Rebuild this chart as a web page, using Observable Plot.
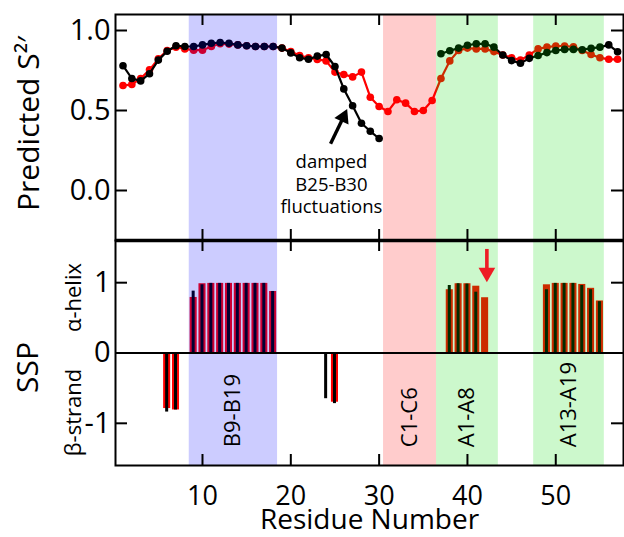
<!DOCTYPE html>
<html><head><meta charset="utf-8">
<script src="https://cdn.jsdelivr.net/npm/d3@7"></script>
<script src="https://cdn.jsdelivr.net/npm/@observablehq/plot@0.6"></script>
<style>
body{margin:0;background:#fff;}
#chart{position:relative;width:624px;height:537px;}
#chart svg{position:absolute;left:0;overflow:visible;}
</style></head><body><div id="chart"></div>
<script>
// ---- data ----
const residues = d3.range(1, 58);
const s2Black = [0.78,0.70,0.685,0.73,0.815,0.87,0.905,0.90,0.90,0.91,
  0.92,0.925,0.92,0.91,0.905,0.90,0.90,0.90,0.89,0.86,
  0.83,0.82,0.84,0.85,0.775,0.635,0.53,0.42,0.37,0.325,
  null,null,null,null,null,null,
  0.855,0.873,0.89,0.908,0.917,0.917,0.896,0.847,0.812,0.795,
  0.826,0.844,0.862,0.875,0.882,0.882,0.88,0.888,0.896,0.91,0.867];
const s2Red = [0.656,0.663,0.70,0.754,0.823,0.875,0.896,0.885,0.877,0.877,
  0.90,0.917,0.915,0.91,0.905,0.90,0.90,0.90,0.89,0.869,
  0.844,0.83,0.819,0.81,0.74,0.725,0.71,0.74,0.583,0.525,
  0.494,0.567,0.546,0.494,0.50,0.5625,
  0.70,0.81,0.875,0.89,0.885,0.885,0.868,0.847,0.83,0.815,
  0.847,0.885,0.896,0.903,0.903,0.898,0.875,0.85,0.83,0.82,0.82];

const sspResidues = [6,7,9,10,11,12,13,14,15,16,17,18,24,25,38,39,40,41,42,49,50,51,52,53,54,55];
const sspRed   = [-0.79,-0.81,0.79,0.985,0.99,0.99,0.99,0.99,0.99,0.99,0.99,0.875,0,-0.70,0.90,0.985,0.985,0.95,0.786,0.97,0.99,0.99,0.99,0.975,0.92,0.74];
const sspBlack = [-0.84,-0.81,0.88,0.97,0.99,0.99,0.99,0.99,0.99,0.99,0.99,0.875,-0.65,-0.72,0.96,0.985,0.98,0.865,0,0.90,0.99,0.99,0.99,0.96,0.90,0.73];

const regionStart  = [8.5, 30.5, 36.5, 47.5];
const regionEnd    = [18.5, 36.5, 43.5, 55.5];
const regionLabels = ["B9-B19", "C1-C6", "A1-A8", "A13-A19"];
const regionColors = ["#0000ff", "#ff0000", "#00dc00", "#00dc00"];

const xTicks = [10, 20, 30, 40, 50];
const topTicks = [0, 0.5, 1.0];
const sspTicks = [-1, 0, 1];

const annotationText = "damped\nB25-B30\nfluctuations";
const annotationPos = {x: 24.6, y: 0.044};
// arrow shaft (tail -> base of head) and head centre
const blackArrow = {x1: 24.5, y1: 0.292, x2: 25.8, y2: 0.44, hx: 25.95, hy: 0.458, angle: 25};
const redArrow = {x1: 42.2, y1: 1.48, x2: 42.2, y2: 1.16, hx: 42.2, hy: 1.145, angle: 180};

// ---- layout ----
const W = 624, ML = 115, MR = 1;
const xDomain = [0.15, 57.67];
const topDomain = [-0.3125, 1.1];
const sspDomain = [-1.6, 1.6];
const topH = 241, topMT = 14, topMB = 1;
const botH = 297, botMT = 0, botMB = 72;
const frameW = W - ML - MR;
const topFrameH = topH - topMT - topMB;
const botFrameH = botH - botMT - botMB;
const tickLenY = 12, tickLenX = 11;
const FONT = "'Open Sans', sans-serif";

const s2Rows = residues.map((r, i) => ({r, black: s2Black[i], red: s2Red[i]}));
const sspRows = sspResidues.map((r, i) => ({r, red: sspRed[i], black: sspBlack[i]}));
const regionRows = regionStart.map((s, i) => ({start: s, end: regionEnd[i], label: regionLabels[i], color: regionColors[i], mid: (s + regionEnd[i]) / 2}));

function inwardTicks(yt, fH) {
  return [
    Plot.ruleY(yt, {y: d => d, insetRight: frameW - tickLenY, strokeWidth: 2}),
    Plot.ruleY(yt, {y: d => d, insetLeft: frameW - tickLenY, strokeWidth: 2}),
    Plot.ruleX(xTicks, {x: d => d, insetBottom: fH - tickLenX, strokeWidth: 2}),
    Plot.ruleX(xTicks, {x: d => d, insetTop: fH - tickLenX, strokeWidth: 2})
  ];
}
function arrowMarks(a, color, w, r) {
  return [
    Plot.link([a], {x1: "x1", y1: "y1", x2: "x2", y2: "y2", stroke: color, strokeWidth: w}),
    Plot.dot([a], {x: "hx", y: "hy", symbol: "triangle", r, fill: color, rotate: "angle"})
  ];
}
const label = (txt, dx, dy, size) => Plot.text([txt], {frameAnchor: "left", textAnchor: "middle", lineAnchor: "middle", dx, dy, rotate: -90, fontSize: size, text: d => d});

const styleStr = `font-family: ${FONT}; font-size: 29px; background: transparent; overflow: visible; color: #000;`;

const topPlot = Plot.plot({
  width: W, height: topH, marginLeft: ML, marginRight: MR, marginTop: topMT, marginBottom: topMB,
  style: styleStr,
  x: {domain: xDomain, axis: null},
  y: {domain: topDomain},
  marks: [
    Plot.line(s2Rows, {x: "r", y: "red", stroke: "#ff0000", strokeWidth: 2.2}),
    Plot.dot(s2Rows, {x: "r", y: "red", r: 3.8, fill: "#ff0000"}),
    Plot.line(s2Rows, {x: "r", y: "black", stroke: "#000", strokeWidth: 2.2}),
    Plot.dot(s2Rows, {x: "r", y: "black", r: 3.8, fill: "#000"}),
    Plot.rect(regionRows, {x1: "start", x2: "end", y1: topDomain[0], y2: topDomain[1], fill: "color", fillOpacity: 0.2}),
    ...inwardTicks(topTicks, topFrameH),
    Plot.frame({strokeWidth: 2}),
    Plot.axisY({ticks: topTicks, tickSize: 0, tickPadding: 5, tickFormat: d3.format(".1f"), label: null}),
    Plot.text([annotationText], {x: annotationPos.x, y: annotationPos.y, text: d => d, fontSize: 18.5, lineHeight: 1.2}),
    ...arrowMarks(blackArrow, "#000", 3.4, 5.8),
    label("Predicted S²′", -86, -4, 30)
  ]
});
topPlot.style.top = "0px";

const botPlot = Plot.plot({
  width: W, height: botH, marginLeft: ML, marginRight: MR, marginTop: botMT, marginBottom: botMB,
  style: styleStr,
  x: {domain: xDomain},
  y: {domain: sspDomain},
  marks: [
    Plot.rect(sspRows.filter(d => d.red !== 0), {x1: d => d.r - 0.4, x2: d => d.r + 0.4, y1: 0, y2: "red", fill: "#ff0000"}),
    Plot.rect(sspRows.filter(d => d.black !== 0), {x1: d => d.r - 0.17, x2: d => d.r + 0.17, y1: 0, y2: "black", fill: "#000"}),
    Plot.rect(regionRows, {x1: "start", x2: "end", y1: sspDomain[0], y2: sspDomain[1], fill: "color", fillOpacity: 0.2}),
    Plot.ruleY([0], {strokeWidth: 2.2}),
    ...inwardTicks(sspTicks, botFrameH),
    Plot.frame({strokeWidth: 2}),
    Plot.ruleY([sspDomain[1]], {strokeWidth: 3.5}),
    Plot.axisY({ticks: sspTicks, tickSize: 0, tickPadding: 5, tickFormat: d => d < 0 ? "-" + Math.abs(d) : String(d), label: null}),
    Plot.axisX({ticks: xTicks, tickSize: 0, tickPadding: 20, fontSize: 27, label: null}),
    Plot.text(regionRows, {x: "mid", y: -1.34, text: "label", rotate: -90, textAnchor: "start", fontSize: 22}),
    ...arrowMarks(redArrow, "#ee1c25", 3.6, 6.2),
    label("SSP", -87, 14.5, 30),
    label("α-helix", -42, -55.5, 22),
    label("β-strand", -42, 59.5, 22),
    Plot.text(["Residue Number"], {frameAnchor: "bottom", textAnchor: "middle", lineAnchor: "middle", dy: 55, fontSize: 28, text: d => d})
  ]
});
botPlot.style.top = "240px";

const chart = document.getElementById("chart");
chart.appendChild(topPlot);
chart.appendChild(botPlot);
</script>
</body></html>
